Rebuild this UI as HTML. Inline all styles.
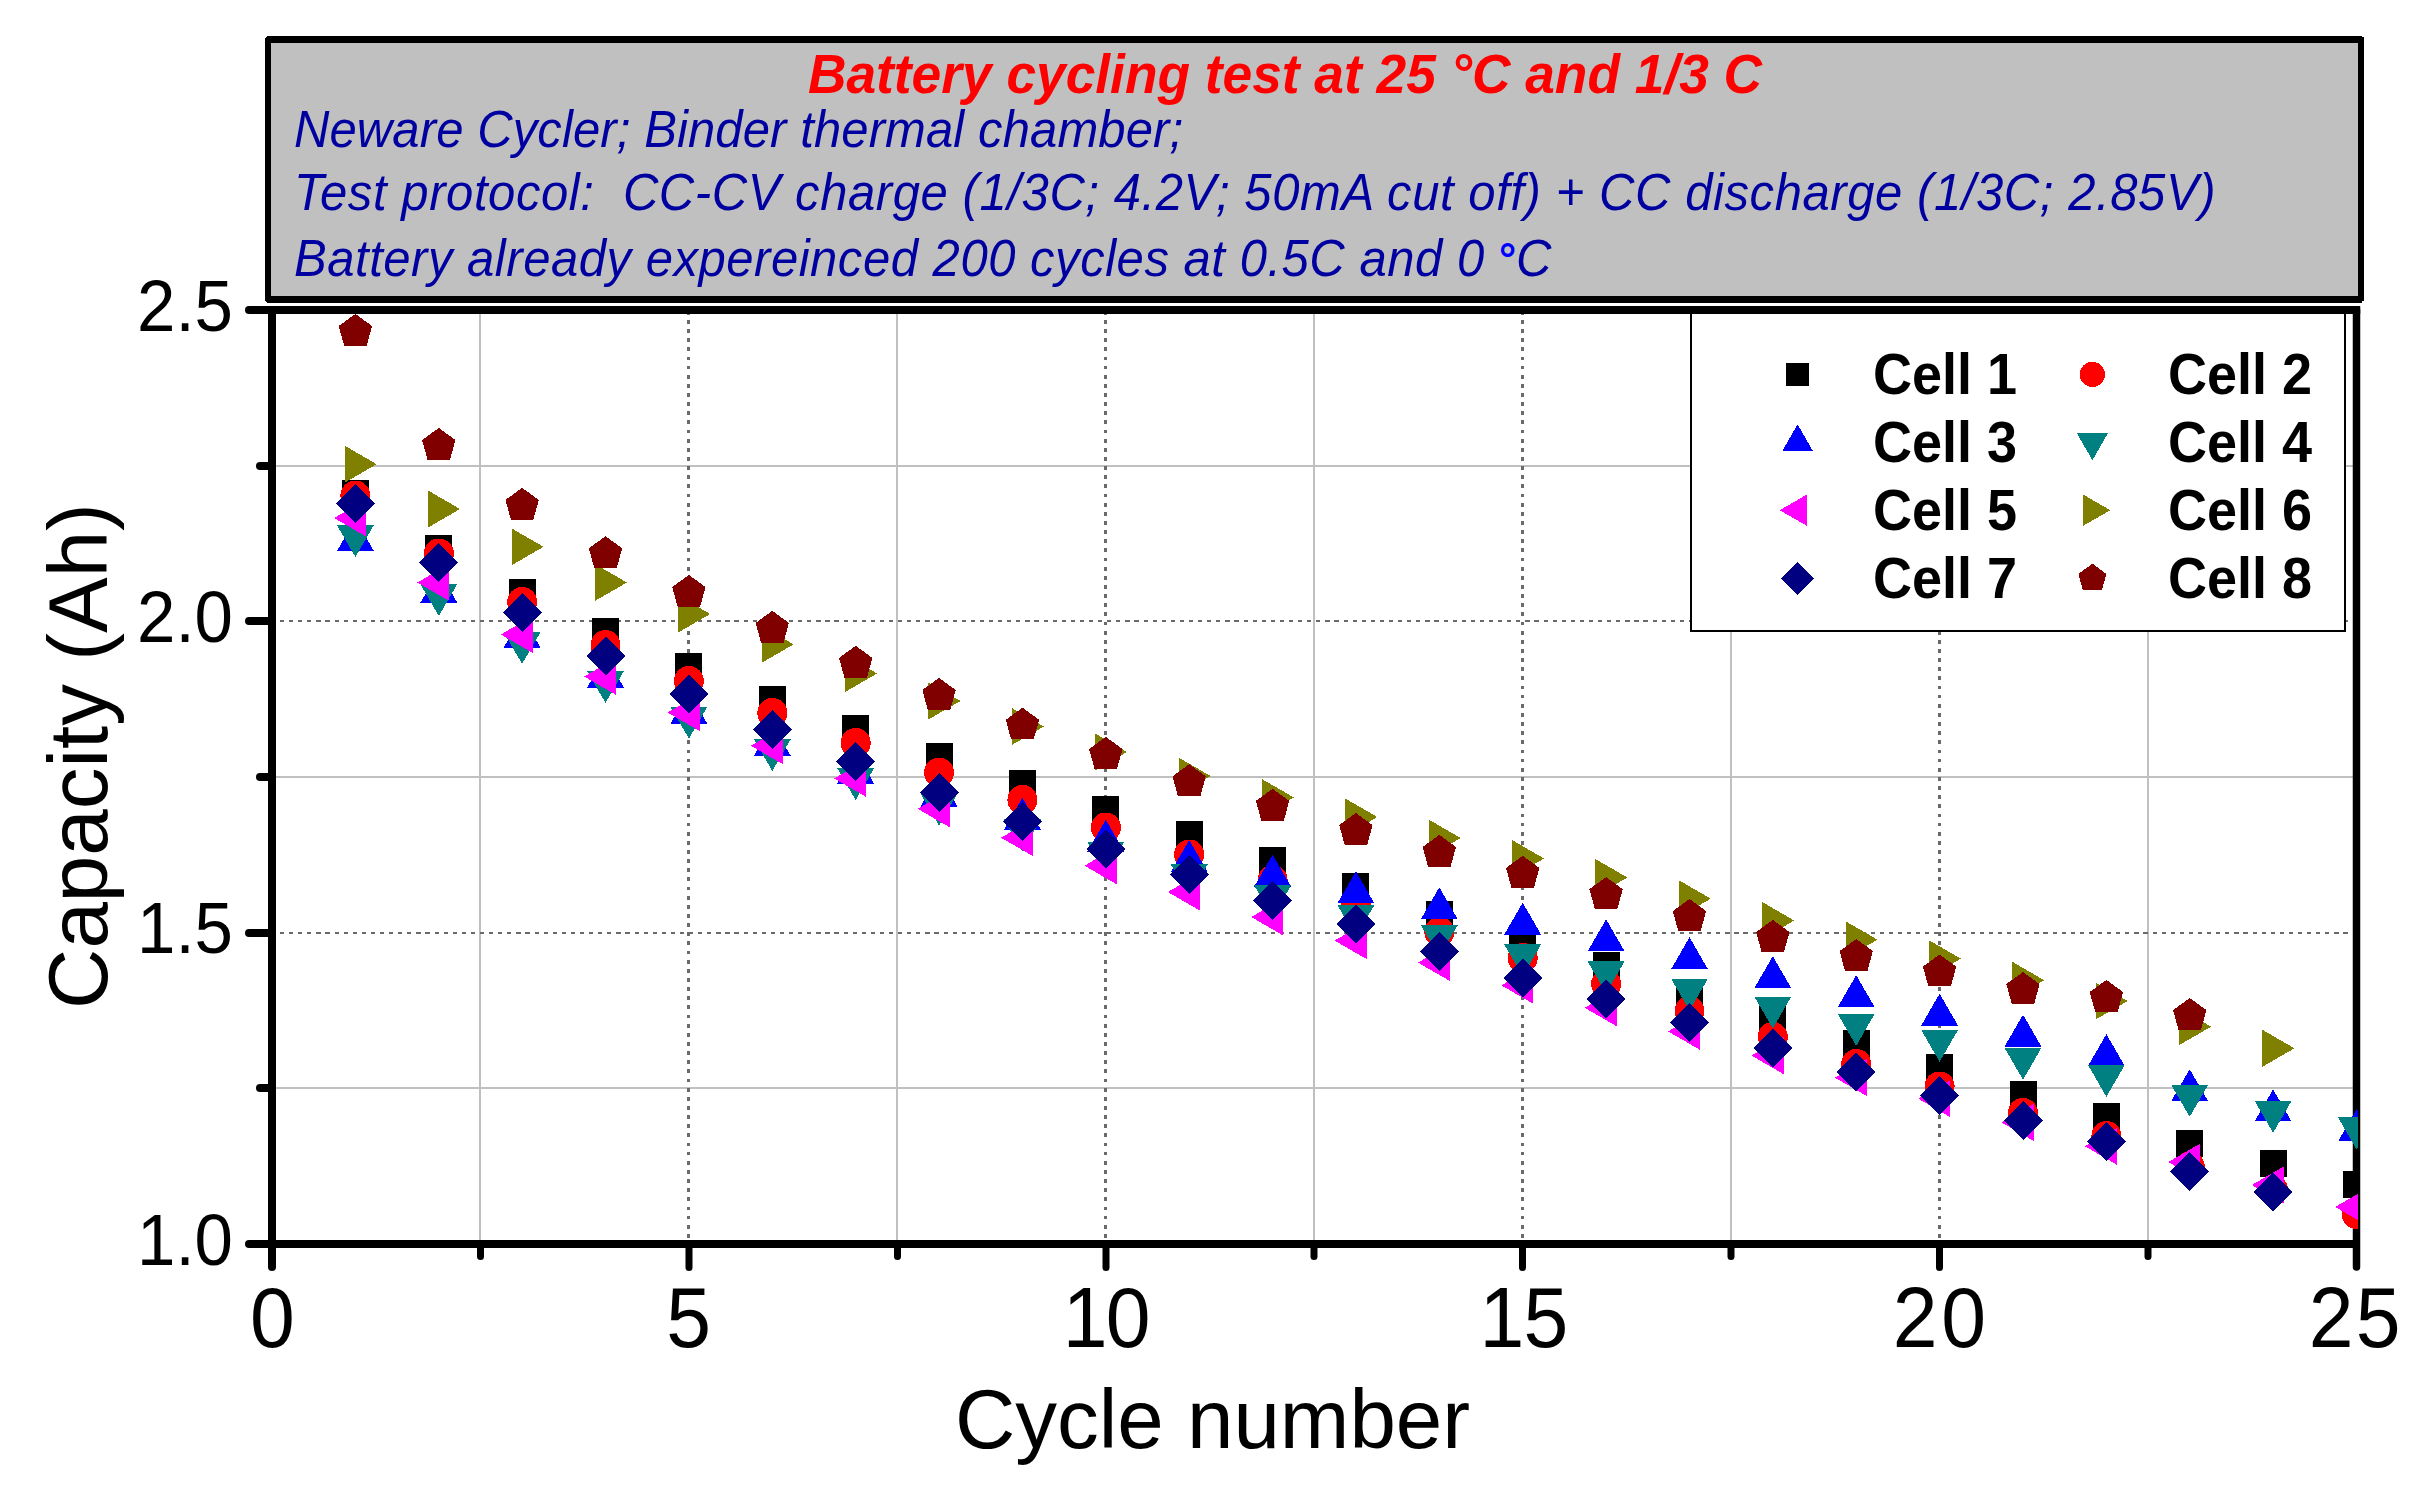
<!DOCTYPE html>
<html lang="en"><head><meta charset="utf-8"><title>Battery cycling test</title>
<style>html,body{margin:0;padding:0;background:#fff;overflow:hidden}svg{display:block}text{font-family:"Liberation Sans",sans-serif;white-space:pre}.t{font-size:53.3px;font-weight:bold;font-style:italic;fill:#ff0000}.b{font-size:49px;font-style:italic;fill:#0000a0}.xl{font-size:80.5px;text-anchor:middle}.yl{font-size:69px;text-anchor:end}.at{font-size:83.5px;text-anchor:middle}.dg{font-style:normal;font-weight:bold;font-size:43px;fill:#0000ff}.lg{font-size:54px;font-weight:bold}</style></head><body>
<svg width="2418" height="1488" viewBox="0 0 2418 1488">
<defs><clipPath id="pc"><rect x="272" y="306" width="2086" height="942"/></clipPath></defs>
<rect width="2418" height="1488" fill="#ffffff"/>
<g shape-rendering="crispEdges">
<g stroke="#c0c0c0" stroke-width="2">
<line x1="480" y1="312" x2="480" y2="1242"/>
<line x1="897" y1="312" x2="897" y2="1242"/>
<line x1="1314" y1="312" x2="1314" y2="1242"/>
<line x1="1731" y1="312" x2="1731" y2="1242"/>
<line x1="2148" y1="312" x2="2148" y2="1242"/>
<line x1="274" y1="466" x2="2355" y2="466"/>
<line x1="274" y1="777" x2="2355" y2="777"/>
<line x1="274" y1="1088" x2="2355" y2="1088"/>
</g>
<g stroke="#6a6a6a">
<line x1="688.5" y1="310.8" x2="688.5" y2="1240" stroke-width="3" stroke-dasharray="3.8 5.34"/>
<line x1="1105.5" y1="310.8" x2="1105.5" y2="1240" stroke-width="3" stroke-dasharray="3.8 5.34"/>
<line x1="1522.5" y1="310.8" x2="1522.5" y2="1240" stroke-width="3" stroke-dasharray="3.8 5.34"/>
<line x1="1939.5" y1="310.8" x2="1939.5" y2="1240" stroke-width="3" stroke-dasharray="3.8 5.34"/>
<line x1="270.9" y1="621" x2="2353" y2="621" stroke-width="2" stroke-dasharray="4.2 4.89"/>
<line x1="270.9" y1="933" x2="2353" y2="933" stroke-width="2" stroke-dasharray="4.2 4.89"/>
</g></g>
<g stroke="#000" stroke-width="8" stroke-linecap="round" fill="none">
<path d="M249 310H2356"/>
<path d="M249 1244H2356"/>
<path d="M272 310V1267"/>
<path d="M2356.5 310V1267" stroke-width="7.5"/>
<path d="M249 621H272"/>
<path d="M249 933H272"/>
<path d="M260 466H272"/>
<path d="M260 777H272"/>
<path d="M260 1088H272"/>
</g>
<g stroke="#000" stroke-width="7" stroke-linecap="round" fill="none">
<path d="M689 1244V1267.5"/>
<path d="M1106 1244V1267.5"/>
<path d="M1522.5 1244V1267.5"/>
<path d="M1939.5 1244V1267.5"/>
<path d="M480.5 1244V1256.5"/>
<path d="M897.5 1244V1256.5"/>
<path d="M1314 1244V1256.5"/>
<path d="M1731 1244V1256.5"/>
<path d="M2148 1244V1256.5"/>
</g>
<rect x="2352.75" y="306" width="7.5" height="8" fill="#000"/>
<g clip-path="url(#pc)" shape-rendering="crispEdges">
<g><rect x="341.9" y="480.2" width="27" height="27" fill="#000000"/><rect x="425.3" y="535.1" width="27" height="27" fill="#000000"/><rect x="508.6" y="579" width="27" height="27" fill="#000000"/><rect x="592" y="618" width="27" height="27" fill="#000000"/><rect x="675.4" y="652.7" width="27" height="27" fill="#000000"/><rect x="758.8" y="685.8" width="27" height="27" fill="#000000"/><rect x="842.2" y="715" width="27" height="27" fill="#000000"/><rect x="925.5" y="742.7" width="27" height="27" fill="#000000"/><rect x="1008.9" y="769.8" width="27" height="27" fill="#000000"/><rect x="1092.3" y="795.8" width="27" height="27" fill="#000000"/><rect x="1175.7" y="820.8" width="27" height="27" fill="#000000"/><rect x="1259.1" y="847.3" width="27" height="27" fill="#000000"/><rect x="1342.4" y="872.7" width="27" height="27" fill="#000000"/><rect x="1425.8" y="901" width="27" height="27" fill="#000000"/><rect x="1509.2" y="928" width="27" height="27" fill="#000000"/><rect x="1592.6" y="952" width="27" height="27" fill="#000000"/><rect x="1676" y="979" width="27" height="27" fill="#000000"/><rect x="1759.3" y="1005.5" width="27" height="27" fill="#000000"/><rect x="1842.7" y="1030.2" width="27" height="27" fill="#000000"/><rect x="1926.1" y="1054.2" width="27" height="27" fill="#000000"/><rect x="2009.5" y="1080.7" width="27" height="27" fill="#000000"/><rect x="2092.9" y="1103" width="27" height="27" fill="#000000"/><rect x="2176.2" y="1130" width="27" height="27" fill="#000000"/><rect x="2259.6" y="1149.9" width="27" height="27" fill="#000000"/><rect x="2343" y="1170.5" width="27" height="27" fill="#000000"/></g>
<g><circle cx="355.4" cy="495.6" r="15" fill="#ff0000"/><circle cx="438.8" cy="553.5" r="15" fill="#ff0000"/><circle cx="522.1" cy="602" r="15" fill="#ff0000"/><circle cx="605.5" cy="645" r="15" fill="#ff0000"/><circle cx="688.9" cy="681" r="15" fill="#ff0000"/><circle cx="772.3" cy="712.9" r="15" fill="#ff0000"/><circle cx="855.7" cy="742.9" r="15" fill="#ff0000"/><circle cx="939" cy="772.7" r="15" fill="#ff0000"/><circle cx="1022.4" cy="799.8" r="15" fill="#ff0000"/><circle cx="1105.8" cy="827.5" r="15" fill="#ff0000"/><circle cx="1189.2" cy="854.5" r="15" fill="#ff0000"/><circle cx="1272.6" cy="880" r="15" fill="#ff0000"/><circle cx="1355.9" cy="905" r="15" fill="#ff0000"/><circle cx="1439.3" cy="932" r="15" fill="#ff0000"/><circle cx="1522.7" cy="958" r="15" fill="#ff0000"/><circle cx="1606.1" cy="984" r="15" fill="#ff0000"/><circle cx="1689.5" cy="1011" r="15" fill="#ff0000"/><circle cx="1772.8" cy="1037" r="15" fill="#ff0000"/><circle cx="1856.2" cy="1064" r="15" fill="#ff0000"/><circle cx="1939.6" cy="1086.5" r="15" fill="#ff0000"/><circle cx="2023" cy="1113" r="15" fill="#ff0000"/><circle cx="2106.4" cy="1136" r="15" fill="#ff0000"/><circle cx="2189.7" cy="1166.5" r="15" fill="#ff0000"/><circle cx="2273.1" cy="1190" r="15" fill="#ff0000"/><circle cx="2356.5" cy="1213.9" r="15" fill="#ff0000"/></g>
<g><polygon points="355.4,519.1 336.9,551.1 373.9,551.1" fill="#0000ff"/><polygon points="438.8,570.8 420.3,602.8 457.3,602.8" fill="#0000ff"/><polygon points="522.1,615.8 503.6,647.8 540.6,647.8" fill="#0000ff"/><polygon points="605.5,655.8 587,687.8 624,687.8" fill="#0000ff"/><polygon points="688.9,691.8 670.4,723.8 707.4,723.8" fill="#0000ff"/><polygon points="772.3,724 753.8,756 790.8,756" fill="#0000ff"/><polygon points="855.7,751.7 837.2,783.7 874.2,783.7" fill="#0000ff"/><polygon points="939,774.7 920.5,806.7 957.5,806.7" fill="#0000ff"/><polygon points="1022.4,797.7 1003.9,829.7 1040.9,829.7" fill="#0000ff"/><polygon points="1105.8,819.8 1087.3,851.8 1124.3,851.8" fill="#0000ff"/><polygon points="1189.2,840 1170.7,872 1207.7,872" fill="#0000ff"/><polygon points="1272.6,854.7 1254.1,886.7 1291.1,886.7" fill="#0000ff"/><polygon points="1355.9,871.3 1337.4,903.3 1374.4,903.3" fill="#0000ff"/><polygon points="1439.3,887.3 1420.8,919.3 1457.8,919.3" fill="#0000ff"/><polygon points="1522.7,902.7 1504.2,934.7 1541.2,934.7" fill="#0000ff"/><polygon points="1606.1,919.3 1587.6,951.3 1624.6,951.3" fill="#0000ff"/><polygon points="1689.5,937.3 1671,969.3 1708,969.3" fill="#0000ff"/><polygon points="1772.8,956.2 1754.3,988.2 1791.3,988.2" fill="#0000ff"/><polygon points="1856.2,975.2 1837.7,1007.2 1874.7,1007.2" fill="#0000ff"/><polygon points="1939.6,993.7 1921.1,1025.7 1958.1,1025.7" fill="#0000ff"/><polygon points="2023,1014.7 2004.5,1046.7 2041.5,1046.7" fill="#0000ff"/><polygon points="2106.4,1034.2 2087.9,1066.2 2124.9,1066.2" fill="#0000ff"/><polygon points="2189.7,1069.2 2171.2,1101.2 2208.2,1101.2" fill="#0000ff"/><polygon points="2273.1,1089.4 2254.6,1121.4 2291.6,1121.4" fill="#0000ff"/><polygon points="2356.5,1109.4 2338,1141.4 2375,1141.4" fill="#0000ff"/></g>
<g><polygon points="355.4,557 336.9,525 373.9,525" fill="#008080"/><polygon points="438.8,616 420.3,584 457.3,584" fill="#008080"/><polygon points="522.1,663.9 503.6,631.9 540.6,631.9" fill="#008080"/><polygon points="605.5,702.9 587,670.9 624,670.9" fill="#008080"/><polygon points="688.9,738.6 670.4,706.6 707.4,706.6" fill="#008080"/><polygon points="772.3,771 753.8,739 790.8,739" fill="#008080"/><polygon points="855.7,800.1 837.2,768.1 874.2,768.1" fill="#008080"/><polygon points="939,825.4 920.5,793.4 957.5,793.4" fill="#008080"/><polygon points="1022.4,851.3 1003.9,819.3 1040.9,819.3" fill="#008080"/><polygon points="1105.8,874.1 1087.3,842.1 1124.3,842.1" fill="#008080"/><polygon points="1189.2,896.3 1170.7,864.3 1207.7,864.3" fill="#008080"/><polygon points="1272.6,917.3 1254.1,885.3 1291.1,885.3" fill="#008080"/><polygon points="1355.9,937 1337.4,905 1374.4,905" fill="#008080"/><polygon points="1439.3,957 1420.8,925 1457.8,925" fill="#008080"/><polygon points="1522.7,976.3 1504.2,944.3 1541.2,944.3" fill="#008080"/><polygon points="1606.1,993.3 1587.6,961.3 1624.6,961.3" fill="#008080"/><polygon points="1689.5,1010.5 1671,978.5 1708,978.5" fill="#008080"/><polygon points="1772.8,1028.5 1754.3,996.5 1791.3,996.5" fill="#008080"/><polygon points="1856.2,1045.8 1837.7,1013.8 1874.7,1013.8" fill="#008080"/><polygon points="1939.6,1061.8 1921.1,1029.8 1958.1,1029.8" fill="#008080"/><polygon points="2023,1079.8 2004.5,1047.8 2041.5,1047.8" fill="#008080"/><polygon points="2106.4,1096.8 2087.9,1064.8 2124.9,1064.8" fill="#008080"/><polygon points="2189.7,1116.8 2171.2,1084.8 2208.2,1084.8" fill="#008080"/><polygon points="2273.1,1132.8 2254.6,1100.8 2291.6,1100.8" fill="#008080"/><polygon points="2356.5,1149.3 2338,1117.3 2375,1117.3" fill="#008080"/></g>
<g><polygon points="334.1,518 366.1,499.5 366.1,536.5" fill="#ff00ff"/><polygon points="417.4,582.5 449.4,564 449.4,601" fill="#ff00ff"/><polygon points="500.8,634.5 532.8,616 532.8,653" fill="#ff00ff"/><polygon points="584.2,676.5 616.2,658 616.2,695" fill="#ff00ff"/><polygon points="667.6,712.5 699.6,694 699.6,731" fill="#ff00ff"/><polygon points="750.9,745.8 782.9,727.3 782.9,764.3" fill="#ff00ff"/><polygon points="834.3,778.5 866.3,760 866.3,797" fill="#ff00ff"/><polygon points="917.7,808.8 949.7,790.3 949.7,827.3" fill="#ff00ff"/><polygon points="1001.1,837.7 1033.1,819.2 1033.1,856.2" fill="#ff00ff"/><polygon points="1084.5,865.7 1116.5,847.2 1116.5,884.2" fill="#ff00ff"/><polygon points="1167.8,892 1199.8,873.5 1199.8,910.5" fill="#ff00ff"/><polygon points="1251.2,917 1283.2,898.5 1283.2,935.5" fill="#ff00ff"/><polygon points="1334.6,940.6 1366.6,922.1 1366.6,959.1" fill="#ff00ff"/><polygon points="1418,962.6 1450,944.1 1450,981.1" fill="#ff00ff"/><polygon points="1501.4,985.4 1533.4,966.9 1533.4,1003.9" fill="#ff00ff"/><polygon points="1584.8,1007.8 1616.8,989.3 1616.8,1026.3" fill="#ff00ff"/><polygon points="1668.1,1031.4 1700.1,1012.9 1700.1,1049.9" fill="#ff00ff"/><polygon points="1751.5,1055.6 1783.5,1037.1 1783.5,1074.1" fill="#ff00ff"/><polygon points="1834.9,1077.6 1866.9,1059.1 1866.9,1096.1" fill="#ff00ff"/><polygon points="1918.3,1098.7 1950.3,1080.2 1950.3,1117.2" fill="#ff00ff"/><polygon points="2001.7,1122.5 2033.7,1104 2033.7,1141" fill="#ff00ff"/><polygon points="2085,1146.3 2117,1127.8 2117,1164.8" fill="#ff00ff"/><polygon points="2168.4,1162 2200.4,1143.5 2200.4,1180.5" fill="#ff00ff"/><polygon points="2251.8,1185 2283.8,1166.5 2283.8,1203.5" fill="#ff00ff"/><polygon points="2335.2,1207 2367.2,1188.5 2367.2,1225.5" fill="#ff00ff"/></g>
<g><polygon points="376.7,464.2 344.7,445.7 344.7,482.7" fill="#808000"/><polygon points="460.1,509 428.1,490.5 428.1,527.5" fill="#808000"/><polygon points="543.5,546.8 511.5,528.3 511.5,565.3" fill="#808000"/><polygon points="626.9,582.5 594.9,564 594.9,601" fill="#808000"/><polygon points="710.2,614 678.2,595.5 678.2,632.5" fill="#808000"/><polygon points="793.6,644.4 761.6,625.9 761.6,662.9" fill="#808000"/><polygon points="877,673.5 845,655 845,692" fill="#808000"/><polygon points="960.4,701 928.4,682.5 928.4,719.5" fill="#808000"/><polygon points="1043.8,726.5 1011.8,708 1011.8,745" fill="#808000"/><polygon points="1127.1,752 1095.1,733.5 1095.1,770.5" fill="#808000"/><polygon points="1210.5,776 1178.5,757.5 1178.5,794.5" fill="#808000"/><polygon points="1293.9,797.5 1261.9,779 1261.9,816" fill="#808000"/><polygon points="1377.3,817 1345.3,798.5 1345.3,835.5" fill="#808000"/><polygon points="1460.6,838 1428.6,819.5 1428.6,856.5" fill="#808000"/><polygon points="1544,858.5 1512,840 1512,877" fill="#808000"/><polygon points="1627.4,877.5 1595.4,859 1595.4,896" fill="#808000"/><polygon points="1710.8,898.7 1678.8,880.2 1678.8,917.2" fill="#808000"/><polygon points="1794.2,920.5 1762.2,902 1762.2,939" fill="#808000"/><polygon points="1877.5,939.7 1845.5,921.2 1845.5,958.2" fill="#808000"/><polygon points="1960.9,958.7 1928.9,940.2 1928.9,977.2" fill="#808000"/><polygon points="2044.3,980.3 2012.3,961.8 2012.3,998.8" fill="#808000"/><polygon points="2127.7,1001 2095.7,982.5 2095.7,1019.5" fill="#808000"/><polygon points="2211.1,1026.7 2179.1,1008.2 2179.1,1045.2" fill="#808000"/><polygon points="2294.4,1048.3 2262.4,1029.8 2262.4,1066.8" fill="#808000"/></g>
<g><polygon points="355.4,484 374.9,503.5 355.4,523 335.9,503.5" fill="#000080"/><polygon points="438.8,542.9 458.3,562.4 438.8,581.9 419.3,562.4" fill="#000080"/><polygon points="522.1,593 541.6,612.5 522.1,632 502.6,612.5" fill="#000080"/><polygon points="605.5,636.5 625,656 605.5,675.5 586,656" fill="#000080"/><polygon points="688.9,674.9 708.4,694.4 688.9,713.9 669.4,694.4" fill="#000080"/><polygon points="772.3,710.1 791.8,729.6 772.3,749.1 752.8,729.6" fill="#000080"/><polygon points="855.7,741.8 875.2,761.3 855.7,780.8 836.2,761.3" fill="#000080"/><polygon points="939,773 958.5,792.5 939,812 919.5,792.5" fill="#000080"/><polygon points="1022.4,802.2 1041.9,821.7 1022.4,841.2 1002.9,821.7" fill="#000080"/><polygon points="1105.8,829.5 1125.3,849 1105.8,868.5 1086.3,849" fill="#000080"/><polygon points="1189.2,854.9 1208.7,874.4 1189.2,893.9 1169.7,874.4" fill="#000080"/><polygon points="1272.6,880.9 1292.1,900.4 1272.6,919.9 1253.1,900.4" fill="#000080"/><polygon points="1355.9,904.9 1375.4,924.4 1355.9,943.9 1336.4,924.4" fill="#000080"/><polygon points="1439.3,932 1458.8,951.5 1439.3,971 1419.8,951.5" fill="#000080"/><polygon points="1522.7,958.4 1542.2,977.9 1522.7,997.4 1503.2,977.9" fill="#000080"/><polygon points="1606.1,979.5 1625.6,999 1606.1,1018.5 1586.6,999" fill="#000080"/><polygon points="1689.5,1003 1709,1022.5 1689.5,1042 1670,1022.5" fill="#000080"/><polygon points="1772.8,1028.4 1792.3,1047.9 1772.8,1067.4 1753.3,1047.9" fill="#000080"/><polygon points="1856.2,1052.4 1875.7,1071.9 1856.2,1091.4 1836.7,1071.9" fill="#000080"/><polygon points="1939.6,1076.3 1959.1,1095.8 1939.6,1115.3 1920.1,1095.8" fill="#000080"/><polygon points="2023,1101 2042.5,1120.5 2023,1140 2003.5,1120.5" fill="#000080"/><polygon points="2106.4,1121.9 2125.9,1141.4 2106.4,1160.9 2086.9,1141.4" fill="#000080"/><polygon points="2189.7,1152 2209.2,1171.5 2189.7,1191 2170.2,1171.5" fill="#000080"/><polygon points="2273.1,1172.8 2292.6,1192.3 2273.1,1211.8 2253.6,1192.3" fill="#000080"/></g>
<g><polygon points="355.4,313.9 372,326 366.7,345.6 344.1,345.6 338.7,326" fill="#800000"/><polygon points="438.8,427.9 455.4,440 450.1,459.6 427.5,459.6 422.1,440" fill="#800000"/><polygon points="522.1,487.8 538.8,499.9 533.4,519.5 510.8,519.5 505.5,499.9" fill="#800000"/><polygon points="605.5,536.2 622.2,548.3 616.8,567.9 594.2,567.9 588.9,548.3" fill="#800000"/><polygon points="688.9,574.9 705.5,587 700.2,606.6 677.6,606.6 672.2,587" fill="#800000"/><polygon points="772.3,610.8 788.9,622.9 783.6,642.5 761,642.5 755.6,622.9" fill="#800000"/><polygon points="855.7,645.8 872.3,657.9 867,677.5 844.4,677.5 839,657.9" fill="#800000"/><polygon points="939,677.9 955.7,690 950.3,709.6 927.7,709.6 922.4,690" fill="#800000"/><polygon points="1022.4,707.7 1039.1,719.8 1033.7,739.4 1011.1,739.4 1005.8,719.8" fill="#800000"/><polygon points="1105.8,736.9 1122.5,749 1117.1,768.6 1094.5,768.6 1089.1,749" fill="#800000"/><polygon points="1189.2,764.2 1205.8,776.3 1200.5,795.9 1177.9,795.9 1172.5,776.3" fill="#800000"/><polygon points="1272.6,788.8 1289.2,800.9 1283.9,820.5 1261.3,820.5 1255.9,800.9" fill="#800000"/><polygon points="1355.9,813 1372.6,825.1 1367.2,844.7 1344.6,844.7 1339.3,825.1" fill="#800000"/><polygon points="1439.3,834.9 1456,847 1450.6,866.6 1428,866.6 1422.7,847" fill="#800000"/><polygon points="1522.7,855.8 1539.4,867.9 1534,887.5 1511.4,887.5 1506,867.9" fill="#800000"/><polygon points="1606.1,877.1 1622.7,889.2 1617.4,908.8 1594.8,908.8 1589.4,889.2" fill="#800000"/><polygon points="1689.5,899 1706.1,911.1 1700.8,930.7 1678.2,930.7 1672.8,911.1" fill="#800000"/><polygon points="1772.8,919.9 1789.5,932 1784.1,951.6 1761.5,951.6 1756.2,932" fill="#800000"/><polygon points="1856.2,939 1872.9,951.1 1867.5,970.7 1844.9,970.7 1839.6,951.1" fill="#800000"/><polygon points="1939.6,954.5 1956.2,966.6 1950.9,986.2 1928.3,986.2 1922.9,966.6" fill="#800000"/><polygon points="2023,972 2039.6,984.1 2034.3,1003.7 2011.7,1003.7 2006.3,984.1" fill="#800000"/><polygon points="2106.4,979.9 2123,992 2117.7,1011.6 2095.1,1011.6 2089.7,992" fill="#800000"/><polygon points="2189.7,998 2206.4,1010.1 2201,1029.7 2178.4,1029.7 2173.1,1010.1" fill="#800000"/></g>
</g>
<rect x="1691" y="313" width="654" height="317.5" fill="#fff" stroke="#000" stroke-width="2" shape-rendering="crispEdges"/>
<rect x="1680" y="306" width="676" height="8" fill="#000"/>
<g shape-rendering="crispEdges">
<rect x="1786.3" y="363.1" width="22.7" height="22.7" fill="#000000"/>
<circle cx="2092.4" cy="374.4" r="12.6" fill="#ff0000"/>
<polygon points="1797.6,424.4 1782.1,451.3 1813.1,451.3" fill="#0000ff"/>
<polygon points="2092.4,460.2 2076.9,433.3 2107.9,433.3" fill="#008080"/>
<polygon points="1779.7,510.2 1806.6,494.7 1806.6,525.7" fill="#ff00ff"/>
<polygon points="2110.3,510.2 2083.4,494.7 2083.4,525.7" fill="#808000"/>
<polygon points="1797.6,562 1814,578.4 1797.6,594.8 1781.2,578.4" fill="#000080"/>
<polygon points="2092.4,563.7 2106.4,573.9 2101.9,590.3 2082.9,590.3 2078.4,573.9" fill="#800000"/>
</g>
<text class="lg" transform="translate(1873 393.9) scale(1 1.07)">Cell 1</text>
<text class="lg" transform="translate(2168 393.9) scale(1 1.07)">Cell 2</text>
<text class="lg" transform="translate(1873 461.8) scale(1 1.07)">Cell 3</text>
<text class="lg" transform="translate(2168 461.8) scale(1 1.07)">Cell 4</text>
<text class="lg" transform="translate(1873 529.7) scale(1 1.07)">Cell 5</text>
<text class="lg" transform="translate(2168 529.7) scale(1 1.07)">Cell 6</text>
<text class="lg" transform="translate(1873 597.9) scale(1 1.07)">Cell 7</text>
<text class="lg" transform="translate(2168 597.9) scale(1 1.07)">Cell 8</text>
<polygon points="267,36 2362,36 2362,37 2364,37 2364,301 2362,301 2362,303 267,303 265,301 265,38" fill="#000" shape-rendering="crispEdges"/>
<rect x="271" y="43" width="2087" height="253" fill="#c0c0c0" shape-rendering="crispEdges"/>
<text class="t" transform="translate(808 93.3) scale(1 1.04)">Battery cycling test at 25 °C and 1/3 C</text>
<text class="b" transform="translate(294 146.9) scale(1 1.04)" style="letter-spacing:0.12px">Neware Cycler; Binder thermal chamber;</text>
<text class="b" transform="translate(294 209.9) scale(1 1.04)" style="letter-spacing:0.59px">Test protocol:  CC-CV charge (1/3C; 4.2V; 50mA cut off) + CC discharge (1/3C; 2.85V)</text>
<text class="b" transform="translate(294 275.9) scale(1 1.04)" style="letter-spacing:0.54px">Battery already expereinced 200 cycles at 0.5C and 0 <tspan class="dg" dy="-1.6" dx="0.3">°</tspan><tspan dy="1.6" dx="-0.8">C</tspan></text>
<text class="xl" transform="translate(272.3 1347) scale(1 1.054)">0</text>
<text class="xl" transform="translate(688.6 1347) scale(1 1.054)">5</text>
<text class="xl" transform="translate(1105.8 1347) scale(1 1.054)" style="letter-spacing:-1.7px">10</text>
<text class="xl" transform="translate(1523.4 1347) scale(1 1.054)" style="letter-spacing:-0.9px">15</text>
<text class="xl" transform="translate(1941.2 1347) scale(1 1.054)" style="letter-spacing:3.6px">20</text>
<text class="xl" transform="translate(2355.8 1347) scale(1 1.054)" style="letter-spacing:2.4px">25</text>
<text class="yl" transform="translate(233 330.5) scale(1 1.06)">2.5</text>
<text class="yl" transform="translate(233 641.8) scale(1 1.06)">2.0</text>
<text class="yl" transform="translate(233 953.2) scale(1 1.06)">1.5</text>
<text class="yl" transform="translate(233 1264.5) scale(1 1.06)">1.0</text>
<text class="at" transform="translate(1212.5 1448.3) scale(1 1.0)">Cycle number</text>
<text class="at" transform="translate(106.9 756) rotate(-90) scale(1 1.0)">Capacity (Ah)</text>
</svg></body></html>
